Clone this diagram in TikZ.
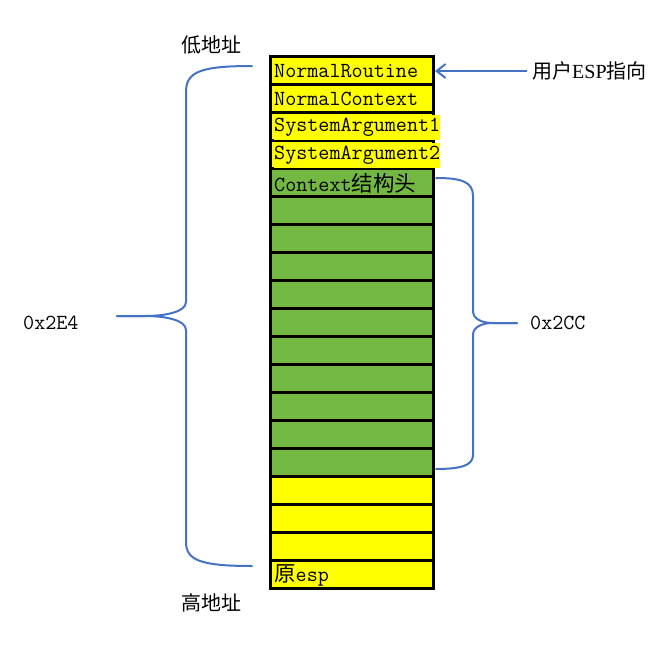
\documentclass[tikz,border=0pt]{standalone}
\usepackage{fontspec}
\setmainfont{Liberation Serif}
\newfontfamily\cjk{Noto Sans CJK SC}
\usetikzlibrary{arrows.meta}
\definecolor{cellyellow}{RGB}{255,255,0}
\definecolor{cellgreen}{RGB}{114,184,66}
\definecolor{braceblue}{RGB}{68,114,196}
\begin{document}
\begin{tikzpicture}[x=1pt,y=-1pt,
  cell/.style={draw=black,line width=3pt,minimum width=163pt,minimum height=28pt,inner sep=0pt,outer sep=0pt},
  ycell/.style={cell,fill=cellyellow},
  gcell/.style={cell,fill=cellgreen},
  celltext/.style={anchor=west,inner sep=0pt,font=\fontsize{21.5}{21.5}\selectfont\ttfamily},
  lbl/.style={inner sep=0pt,font=\fontsize{20}{20}\selectfont},
  brace/.style={draw=braceblue,line width=2pt,line cap=round},
]
\useasboundingbox (0,0) rectangle (662,646);
% rows
\foreach \i in {1,...,4} {\node[ycell] (r\i) at (351.5,{70+28*(\i-1)}) {};}
\foreach \i in {5,...,15} {\node[gcell] (r\i) at (351.5,{70+28*(\i-1)}) {};}
\foreach \i in {16,...,19} {\node[ycell] (r\i) at (351.5,{70+28*(\i-1)}) {};}
% texts
\node[celltext] (t1) at (274,71) {NormalRoutine};
\node[celltext] (t2) at (274,99) {NormalContext};
\node[celltext,fill=cellyellow,minimum height=25pt] (t3) at (274,127) {SystemArgument1};
\node[celltext,fill=cellyellow,minimum height=25pt] (t4) at (274,155) {SystemArgument2};
\node[celltext] (t5) at (274,183) {Context{\cjk 结构头}};
\node[celltext] (t19) at (274,575) {{\cjk 原}esp};
% labels
\node[lbl] (low) at (211,45) {\cjk 低地址};
\node[lbl] (high) at (211,603) {\cjk 高地址};
\node[lbl,anchor=west] (esp) at (532,71) {{\cjk 用户}ESP{\cjk 指向}};
\node[lbl,anchor=west,font=\fontsize{21.5}{21.5}\selectfont\ttfamily] (s1) at (23,323) {0x2E4};
\node[lbl,anchor=west,font=\fontsize{21.5}{21.5}\selectfont\ttfamily] (s2) at (530,323) {0x2CC};
% arrow
\coordinate (atip) at (435,71);
\draw[braceblue,line width=2pt,-{Straight Barb[length=9pt,width=14pt,line width=2pt]}] (esp.west) ++(-5,0) -- (atip);
% left brace
\coordinate (lt) at (252,66);
\coordinate (lb) at (252,566);
\coordinate (lm) at (117,316);
\draw[brace] (lt) .. controls (200,66) and (186,72) .. (186,92) -- (186,302)
  .. controls (186,312) and (165,316) .. (145,316) -- (lm);
\draw[brace] (lm) -- (145,316) .. controls (165,316) and (186,320) .. (186,330)
  -- (186,542) .. controls (186,560) and (200,566) .. (lb);
% right brace
\coordinate (rt) at (436,178);
\coordinate (rb) at (436,469);
\coordinate (rm) at (517,323);
\draw[brace] (rt) .. controls (462,178) and (473,182) .. (473,196) -- (473,311)
  .. controls (473,319) and (482,323) .. (493,323) -- (rm);
\draw[brace] (rm) -- (493,323) .. controls (482,323) and (473,327) .. (473,335)
  -- (473,455) .. controls (473,465) and (462,469) .. (rb);
\end{tikzpicture}
\end{document}
